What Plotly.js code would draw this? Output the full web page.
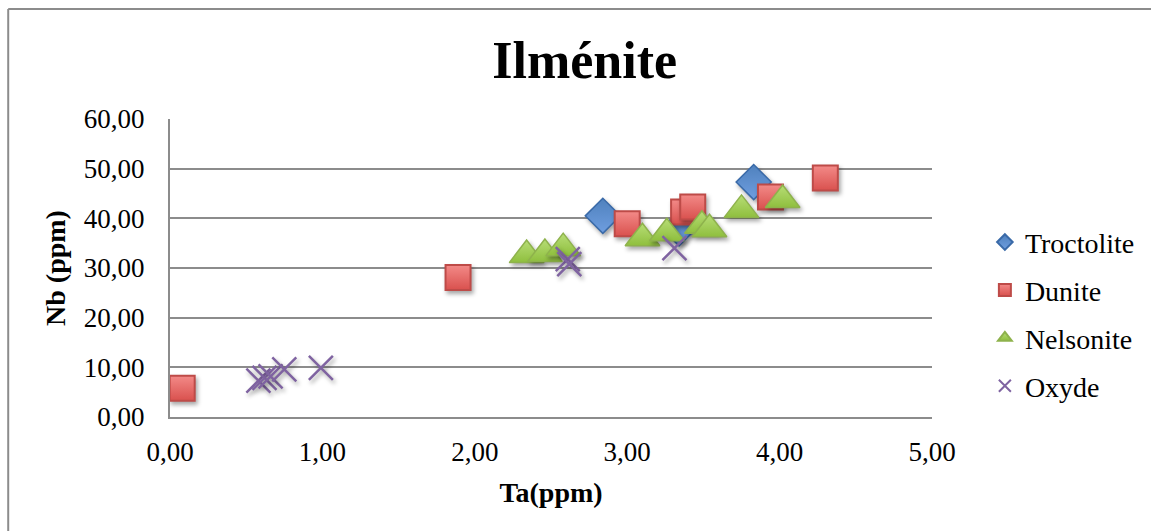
<!DOCTYPE html>
<html>
<head>
<meta charset="utf-8">
<script src="https://cdn.plot.ly/plotly-3.0.1.min.js"></script>
<style>
  html, body { margin: 0; padding: 0; background: #ffffff; }
  #chart { width: 1151px; height: 531px; }
  .scatterlayer .point { filter: drop-shadow(2px 3px 2px rgba(0,0,0,0.35)); }
</style>
</head>
<body>
<div id="chart"></div>
<script>
// Ta vs Nb (ppm) in ilmenite, grouped by host rock
const troctoliteTa = [2.84, 3.34, 3.83];
const troctoliteNb = [40.5, 38.0, 47.3];

const duniteTa = [0.08, 1.89, 3.00, 3.37, 3.43, 3.94, 4.30];
const duniteNb = [5.8, 28.1, 38.9, 41.3, 42.3, 44.3, 48.1];

const nelsoniteTa = [2.34, 2.46, 2.58, 3.10, 3.26, 3.49, 3.54, 3.75, 4.02];
const nelsoniteNb = [32.6, 32.8, 34.0, 36.0, 37.0, 38.5, 37.8, 41.7, 43.7];

const oxydeTa = [0.58, 0.62, 0.66, 0.75, 0.99, 2.61, 2.62, 3.31];
const oxydeNb = [7.3, 7.9, 8.2, 9.6, 9.9, 31.8, 30.8, 34.0];

const seriesNames = ['Troctolite', 'Dunite', 'Nelsonite', 'Oxyde'];

const serif = '"Liberation Serif", "DejaVu Serif", serif';
const gridColor = '#8c8c8c';

const traces = [
  {
    x: troctoliteTa, y: troctoliteNb, name: seriesNames[0],
    type: 'scatter', mode: 'markers', legendgroup: 'a',
    marker: { symbol: 'diamond', size: 27, color: '#4f81bd',
              gradient: { type: 'vertical', color: '#6f9ee0' },
              line: { color: '#3a6aa8', width: 1.5 } }
  },
  {
    x: duniteTa, y: duniteNb, name: seriesNames[1],
    type: 'scatter', mode: 'markers', legendgroup: 'b',
    marker: { symbol: 'square', size: 25, color: '#f38a88',
              gradient: { type: 'vertical', color: '#d9514e' },
              line: { color: '#be4b48', width: 2 } }
  },
  {
    x: nelsoniteTa, y: nelsoniteNb, name: seriesNames[2],
    type: 'scatter', mode: 'markers', legendgroup: 'c',
    marker: { symbol: 'triangle-up', size: 30, color: '#b7dd76',
              gradient: { type: 'vertical', color: '#8fbf3e' },
              line: { color: '#8eb24c', width: 1.5 } }
  },
  {
    x: oxydeTa, y: oxydeNb, name: seriesNames[3],
    type: 'scatter', mode: 'markers', legendgroup: 'd',
    marker: { symbol: 'x-thin-open', size: 24, color: '#7f63a1',
              line: { color: '#7f63a1', width: 2.5 } }
  }
];

const layout = {
  width: 1151, height: 531,
  margin: { l: 170, r: 218, t: 119, b: 114 },
  paper_bgcolor: '#ffffff', plot_bgcolor: '#ffffff',
  separators: ', ',
  font: { family: serif, size: 27, color: '#000000' },
  title: {
    text: '<b>Ilménite</b>',
    font: { family: serif, size: 52, color: '#000000' },
    xref: 'container', yref: 'container',
    x: 0.508, y: 0.887, xanchor: 'center', yanchor: 'middle'
  },
  xaxis: {
    range: [0, 5], dtick: 1, tickformat: '.2f',
    showgrid: false, zeroline: false,
    showline: true, linecolor: gridColor, linewidth: 2,
    ticks: '', ticklen: 0, ticklabelstandoff: 10,
    tickfont: { family: serif, size: 27 },
    title: { text: '<b>Ta(ppm)</b>', font: { family: serif, size: 28 }, standoff: 16 }
  },
  yaxis: {
    range: [0, 60], dtick: 10, tickformat: '.2f',
    showgrid: true, gridcolor: gridColor, gridwidth: 2,
    zeroline: false,
    showline: true, linecolor: gridColor, linewidth: 2,
    ticks: '', ticklen: 0, ticklabelstandoff: 18,
    tickfont: { family: serif, size: 27 },
    title: { text: '<b>Nb (ppm)</b>', font: { family: serif, size: 28 }, standoff: 10 }
  },
  legend: {
    x: 1.068, y: 0.67, xanchor: 'left', yanchor: 'top',
    font: { family: serif, size: 28 },
    tracegroupgap: 8.5, itemsizing: 'constant',
    bgcolor: 'rgba(0,0,0,0)'
  },
  showlegend: true,
  shapes: [
    { type: 'line', xref: 'paper', yref: 'paper',
      x0: (8 - 170) / 763, x1: 1.4, y0: (417 - 9) / 298, y1: (417 - 9) / 298,
      line: { color: '#8c8c8c', width: 2 } },
    { type: 'line', xref: 'paper', yref: 'paper',
      x0: (8 - 170) / 763, x1: (8 - 170) / 763, y0: (417 - 9) / 298, y1: -0.6,
      line: { color: '#8c8c8c', width: 2 } }
  ]
};

Plotly.newPlot('chart', traces, layout, { displayModeBar: false, staticPlot: true });
</script>
</body>
</html>
